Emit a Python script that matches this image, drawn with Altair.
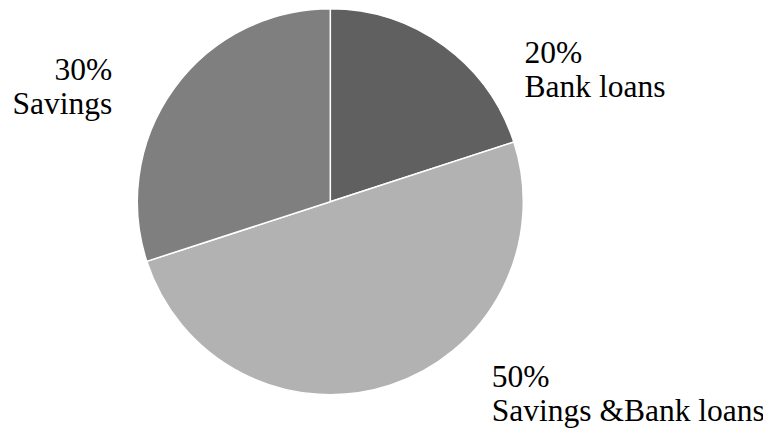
import altair as alt
import pandas as pd

categories = ["Bank loans", "Savings &Bank loans", "Savings"]
values = [20, 50, 30]
colors = ["#606060", "#b2b2b2", "#7f7f7f"]

df = pd.DataFrame({
    "category": categories,
    "value": values,
    "order": list(range(len(categories))),
})
df["label"] = [f"{v}%\n{c}" for v, c in zip(values, categories)]

CX, CY, R, LR = 322.3, 193.7, 193, 225
total = sum(values)
theta_scale = alt.Scale(domain=[0, total])

pie = alt.Chart(df).mark_arc(radius=R, stroke="white", strokeWidth=1.5).encode(
    theta=alt.Theta("value:Q", stack=True, scale=theta_scale),
    order=alt.Order("order:Q"),
    color=alt.Color("category:N", scale=alt.Scale(domain=categories, range=colors), legend=None),
    x=alt.value(CX),
    y=alt.value(CY),
)

offsets = {
    "Bank loans": dict(dx=62, dy=43, align="left"),
    "Savings &Bank loans": dict(dx=92, dy=-29, align="left"),
    "Savings": dict(dx=-36, dy=11, align="right"),
}

stacked = alt.Chart(df).transform_window(
    cum="sum(value)", sort=[alt.SortField("order")]
).transform_calculate(mid="datum.cum - datum.value / 2")

layers = [pie]
for cat in categories:
    o = offsets[cat]
    layers.append(
        stacked.transform_filter(alt.datum.category == cat).mark_text(
            radius=LR, font="Liberation Serif", fontSize=31.5, lineHeight=34,
            lineBreak="\n", color="black", baseline="alphabetic",
            align=o["align"], dx=o["dx"], dy=o["dy"],
        ).encode(
            theta=alt.Theta("mid:Q", scale=theta_scale, stack=False),
            text="label:N", x=alt.value(CX), y=alt.value(CY),
        )
    )

chart = alt.layer(*layers).properties(
    width=755, height=424, padding=0,
    autosize=alt.AutoSizeParams(type="none"),
).configure_view(stroke=None)

chart.save("out.html", embed_options={"renderer": "svg", "actions": False})
